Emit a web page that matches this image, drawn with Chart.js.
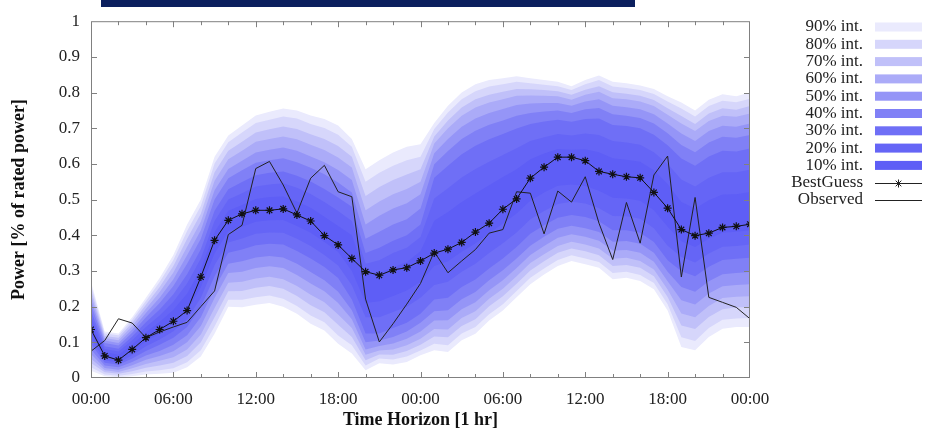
<!DOCTYPE html>
<html>
<head>
<meta charset="utf-8">
<script src="https://cdn.jsdelivr.net/npm/chart.js@4.4.0/dist/chart.umd.min.js"></script>
<style>
  html, body { margin: 0; padding: 0; background: #fff; }
  #wrap { position: relative; width: 931px; height: 436px; }
  #topbar { position: absolute; left: 101px; top: 0; width: 534px; height: 7px; background: #0b1f5e; }
</style>
</head>
<body>
<div id="wrap">
  <canvas id="fan" width="931" height="436"></canvas>
  <div id="topbar"></div>
</div>
<script>
// hours ahead (48 h horizon, one step per hour)
const hours = [0,1,2,3,4,5,6,7,8,9,10,11,12,13,14,15,16,17,18,19,20,21,22,23,24,
  25,26,27,28,29,30,31,32,33,34,35,36,37,38,39,40,41,42,43,44,45,46,47,48];

const bestGuess = [0.136,0.062,0.050,0.080,0.113,0.136,0.159,0.189,0.283,0.386,
  0.442,0.460,0.470,0.470,0.474,0.457,0.440,0.399,0.373,0.335,
  0.298,0.288,0.303,0.309,0.328,0.350,0.361,0.380,0.409,0.434,
  0.473,0.502,0.560,0.591,0.619,0.619,0.609,0.579,0.571,0.564,
  0.561,0.520,0.476,0.416,0.399,0.406,0.422,0.425,0.431];

const observed = [0.075,0.105,0.166,0.154,0.113,0.129,0.143,0.156,0.200,0.244,
  0.402,0.428,0.587,0.607,0.541,0.462,0.560,0.596,0.522,0.508,
  0.221,0.101,0.152,0.207,0.265,0.354,0.295,0.328,0.360,0.406,
  0.416,0.522,0.518,0.404,0.524,0.493,0.564,0.434,0.332,0.492,
  0.378,0.569,0.622,0.283,0.506,0.226,0.212,0.198,0.166];

// upper / lower edges of each prediction interval
const up10 = [.156,.073,.065,.094,.128,.157,.191,.236,.306,.409,
  .469,.485,.502,.507,.509,.495,.477,.452,.426,.400,
  .290,.295,.310,.325,.355,.441,.465,.493,.517,.540,
  .563,.585,.613,.629,.642,.640,.641,.633,.616,.612,
  .606,.582,.544,.493,.475,.498,.514,.515,.521];
const lo10 = [.126,.058,.050,.075,.102,.125,.151,.188,.254,.349,
  .411,.424,.438,.442,.443,.426,.407,.381,.353,.300,
  .210,.215,.230,.245,.270,.314,.327,.354,.377,.405,
  .433,.461,.497,.520,.539,.542,.538,.525,.505,.503,
  .497,.470,.424,.383,.367,.390,.407,.410,.414];

const up20 = [.173,.081,.074,.106,.143,.175,.214,.265,.335,.440,
  .500,.518,.537,.542,.546,.533,.516,.493,.468,.440,
  .320,.330,.350,.365,.395,.503,.532,.562,.586,.606,
  .625,.644,.664,.675,.684,.680,.685,.681,.664,.660,
  .654,.633,.600,.556,.537,.561,.577,.577,.584];
const lo20 = [.110,.050,.043,.064,.089,.108,.131,.165,.225,.316,
  .380,.391,.404,.408,.407,.390,.370,.345,.315,.260,
  .170,.170,.185,.200,.225,.261,.270,.298,.320,.350,
  .378,.408,.445,.468,.488,.494,.489,.476,.454,.453,
  .446,.420,.371,.339,.324,.349,.368,.370,.374];

const up30 = [.188,.089,.082,.116,.156,.192,.235,.291,.361,.469,
  .529,.549,.568,.575,.579,.567,.551,.530,.506,.480,
  .350,.365,.385,.400,.430,.561,.595,.627,.651,.669,
  .684,.699,.712,.719,.724,.718,.726,.727,.709,.706,
  .700,.682,.652,.615,.595,.621,.637,.635,.643];
const lo30 = [.096,.043,.037,.055,.076,.093,.113,.143,.199,.285,
  .351,.360,.372,.376,.374,.356,.335,.311,.280,.220,
  .125,.125,.140,.155,.180,.220,.225,.255,.276,.307,
  .335,.367,.404,.428,.449,.457,.451,.439,.414,.414,
  .407,.381,.330,.299,.285,.312,.331,.334,.337];

const up40 = [.205,.098,.091,.127,.170,.210,.258,.320,.390,.500,
  .560,.582,.603,.610,.616,.605,.589,.571,.548,.520,
  .390,.410,.430,.445,.475,.599,.636,.670,.693,.710,
  .722,.735,.743,.747,.750,.743,.753,.757,.739,.735,
  .729,.713,.686,.653,.633,.660,.676,.673,.681];
const lo40 = [.080,.035,.030,.045,.063,.076,.093,.120,.170,.252,
  .320,.327,.338,.342,.338,.320,.297,.274,.242,.190,
  .100,.105,.115,.130,.155,.187,.190,.221,.241,.274,
  .302,.335,.371,.396,.418,.427,.420,.409,.382,.384,
  .376,.351,.298,.255,.242,.271,.291,.294,.297];

const up50 = [.219,.105,.098,.136,.182,.225,.277,.344,.414,.526,
  .586,.609,.632,.640,.646,.637,.621,.605,.583,.555,
  .430,.455,.475,.490,.515,.630,.670,.704,.727,.743,
  .754,.765,.769,.771,.771,.763,.775,.781,.763,.759,
  .753,.739,.713,.685,.664,.692,.707,.704,.713];
const lo50 = [.067,.028,.023,.036,.051,.062,.075,.100,.146,.224,
  .294,.298,.308,.313,.308,.289,.265,.243,.210,.165,
  .080,.090,.097,.110,.130,.161,.162,.193,.212,.246,
  .274,.308,.345,.370,.393,.403,.396,.385,.357,.359,
  .351,.326,.271,.218,.206,.237,.257,.261,.263];

const up60 = [.234,.112,.106,.146,.194,.241,.296,.368,.438,.553,
  .613,.637,.662,.670,.677,.669,.654,.639,.618,.590,
  .470,.495,.515,.530,.550,.657,.700,.735,.758,.772,
  .781,.791,.792,.791,.790,.780,.794,.802,.784,.781,
  .775,.762,.738,.713,.692,.720,.735,.732,.741];
const lo60 = [.054,.022,.017,.027,.039,.048,.058,.080,.122,.196,
  .267,.270,.279,.284,.277,.258,.233,.212,.178,.140,
  .065,.077,.080,.092,.110,.137,.136,.168,.187,.222,
  .250,.285,.322,.347,.370,.382,.374,.363,.334,.337,
  .328,.304,.248,.181,.170,.202,.224,.228,.229];

const up70 = [.247,.118,.113,.155,.205,.255,.314,.390,.460,.577,
  .637,.662,.688,.697,.705,.698,.683,.670,.650,.620,
  .510,.535,.555,.570,.585,.677,.722,.758,.781,.794,
  .802,.810,.809,.807,.804,.794,.808,.818,.801,.797,
  .791,.779,.756,.734,.712,.741,.756,.752,.762];
const lo70 = [.042,.016,.012,.019,.029,.035,.043,.062,.100,.170,
  .243,.244,.253,.258,.250,.230,.204,.184,.149,.115,
  .050,.066,.065,.076,.093,.116,.114,.146,.165,.201,
  .229,.264,.301,.327,.351,.363,.355,.344,.314,.317,
  .309,.285,.227,.147,.137,.171,.193,.198,.198];

const up80 = [.260,.125,.120,.163,.216,.269,.331,.412,.482,.601,
  .661,.688,.715,.724,.733,.727,.712,.701,.682,.648,
  .550,.575,.595,.610,.620,.698,.744,.781,.804,.817,
  .823,.830,.826,.822,.818,.807,.823,.835,.817,.813,
  .807,.796,.775,.755,.733,.762,.777,.773,.783];
const lo80 = [.030,.010,.006,.011,.018,.022,.027,.044,.078,.144,
  .219,.219,.226,.231,.222,.202,.175,.156,.119,.092,
  .035,.055,.052,.060,.077,.096,.092,.125,.143,.179,
  .207,.244,.281,.307,.331,.344,.335,.325,.294,.298,
  .289,.266,.207,.114,.104,.140,.163,.167,.168];

const up90 = [.270,.130,.125,.170,.225,.280,.345,.430,.500,.620,
  .680,.708,.736,.746,.755,.750,.736,.726,.708,.670,
  .585,.610,.632,.648,.655,.715,.763,.800,.823,.835,
  .840,.846,.840,.835,.830,.818,.835,.848,.830,.826,
  .820,.810,.790,.772,.750,.780,.795,.790,.800];
const lo90 = [.020,.005,.002,.005,.010,.012,.015,.030,.060,.124,
  .200,.198,.205,.210,.200,.180,.152,.133,.096,.069,
  .022,.041,.038,.045,.064,.078,.073,.106,.124,.161,
  .189,.226,.263,.290,.314,.328,.319,.309,.277,.281,
  .272,.249,.189,.087,.078,.115,.138,.143,.143];

const bandLabels = ['10% int.','20% int.','30% int.','40% int.','50% int.',
  '60% int.','70% int.','80% int.','90% int.'];
const bandUpper = [up10, up20, up30, up40, up50, up60, up70, up80, up90];
const bandLower = [lo10, lo20, lo30, lo40, lo50, lo60, lo70, lo80, lo90];
const bandColors = ['#5e5ef6','#6565f6','#6f6ff6','#8080f6','#9595f7',
  '#ababf8','#c0c0f9','#d6d6fb','#eaeafd'];

const serif = '"Liberation Serif", "DejaVu Serif", serif';

function pts(vals) {
  return vals.map((v, i) => ({ x: hours[i], y: v }));
}

const datasets = [
  {
    label: 'BestGuess', data: pts(bestGuess),
    borderColor: '#111', borderWidth: 1, tension: 0, fill: false,
    pointStyle: 'star', pointRadius: 4, pointBorderColor: '#111', pointBorderWidth: 1.2
  },
  {
    label: 'Observed', data: pts(observed),
    borderColor: '#222', borderWidth: 1, tension: 0, fill: false, pointRadius: 0
  }
];

// upper edge fills down to its lower edge (next dataset); index 0 ends up on top
bandUpper.forEach((u, k) => {
  datasets.push({
    label: bandLabels[k], data: pts(u), borderWidth: 0, pointRadius: 0,
    tension: 0, backgroundColor: bandColors[k], fill: '+1'
  });
  datasets.push({
    label: bandLabels[k] + ' lo', data: pts(bandLower[k]), borderWidth: 0,
    pointRadius: 0, tension: 0, fill: false
  });
});

// box with inward ticks on all four sides
const frameTicks = {
  id: 'frameTicks',
  afterDatasetsDraw(chart) {
    const { ctx, chartArea: a, scales: { x, y } } = chart;
    ctx.save();
    ctx.strokeStyle = '#808080';
    ctx.lineWidth = 1;
    ctx.strokeRect(a.left + 0.5, a.top + 0.5, a.right - a.left - 1, a.bottom - a.top - 1);
    ctx.beginPath();
    for (let h = 2; h < 48; h += 2) {
      const px = Math.round(x.getPixelForValue(h)) + 0.5;
      const len = h % 6 === 0 ? 6 : 4;
      ctx.moveTo(px, a.bottom); ctx.lineTo(px, a.bottom - len);
      ctx.moveTo(px, a.top); ctx.lineTo(px, a.top + len);
    }
    for (let v = 1; v < 10; v++) {
      const py = Math.round(y.getPixelForValue(v / 10)) + 0.5;
      ctx.moveTo(a.left, py); ctx.lineTo(a.left + 6, py);
      ctx.moveTo(a.right, py); ctx.lineTo(a.right - 6, py);
    }
    ctx.stroke();
    ctx.restore();
  }
};

// key on the right: text first, then a swatch or line sample
const sideLegend = {
  id: 'sideLegend',
  afterDraw(chart) {
    const ctx = chart.ctx;
    const textRight = 863, x0 = 875, x1 = 922, top = 27, step = 17.3;
    ctx.save();
    ctx.font = '17px ' + serif;
    ctx.fillStyle = '#222';
    ctx.textAlign = 'right';
    ctx.textBaseline = 'middle';
    const rows = bandLabels.slice().reverse();
    const cols = bandColors.slice().reverse();
    rows.forEach((lab, i) => {
      const yy = top + i * step;
      ctx.fillStyle = '#222';
      ctx.fillText(lab, textRight, yy);
      ctx.fillStyle = cols[i];
      ctx.fillRect(x0, yy - 4.5, x1 - x0, 9);
    });
    const yb = top + 9 * step, yo = top + 10 * step;
    ctx.fillStyle = '#222';
    ctx.fillText('BestGuess', textRight, yb);
    ctx.fillText('Observed', textRight, yo);
    ctx.strokeStyle = '#222';
    ctx.lineWidth = 1;
    ctx.beginPath();
    ctx.moveTo(x0, Math.round(yb) + 0.5); ctx.lineTo(x1, Math.round(yb) + 0.5);
    ctx.moveTo(x0, Math.round(yo) + 0.5); ctx.lineTo(x1, Math.round(yo) + 0.5);
    ctx.stroke();
    Chart.helpers.drawPoint(ctx, { pointStyle: 'star', radius: 4, borderWidth: 1.2 },
      (x0 + x1) / 2, Math.round(yb) + 0.5);
    ctx.restore();
  }
};

new Chart(document.getElementById('fan'), {
  type: 'line',
  data: { datasets },
  plugins: [frameTicks, sideLegend],
  options: {
    responsive: false,
    animation: false,
    layout: { padding: { left: 0, top: 18, right: 181, bottom: 0 } },
    plugins: { legend: { display: false }, tooltip: { enabled: false } },
    scales: {
      x: {
        type: 'linear', min: 0, max: 48,
        afterFit: s => { s.height = 58; },
        grid: { display: false, drawTicks: false },
        border: { display: false },
        ticks: {
          stepSize: 6, padding: 11, color: '#222', maxRotation: 0,
          font: { family: serif, size: 17 },
          callback: v => String(v % 24).padStart(2, '0') + ':00'
        },
        title: {
          display: true, text: 'Time Horizon [1 hr]', color: '#111',
          font: { family: serif, size: 18, weight: 'bold' },
          padding: { top: 0, bottom: 5 }
        }
      },
      y: {
        min: 0, max: 1,
        afterFit: s => { s.width = 91; },
        grid: { display: false, drawTicks: false },
        border: { display: false },
        ticks: {
          stepSize: 0.1, padding: 11, color: '#222',
          font: { family: serif, size: 17 },
          callback: v => String(Math.round(v * 10) / 10)
        },
        title: {
          display: true, text: 'Power [% of rated power]', color: '#111',
          font: { family: serif, size: 18, weight: 'bold' },
          padding: { top: 9, bottom: 0 }
        }
      }
    }
  }
});
</script>
</body>
</html>
